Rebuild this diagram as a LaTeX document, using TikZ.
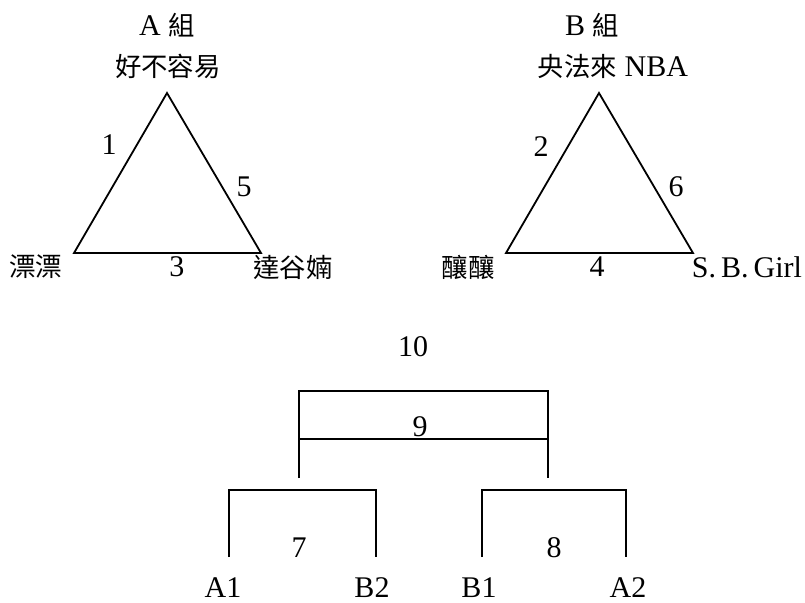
\documentclass[tikz,border=0pt]{standalone}
\usepackage{fontspec}
\usepackage{tikz}
\setmainfont{Liberation Serif}
\newfontfamily\cjk[Scale=0.88]{Noto Sans CJK TC}
\tikzstyle{pixelGrid} = [x = .5pt, y = -.5pt]
\tikzstyle{edgeLine} = [color=black, line width=.9pt, line join=miter]
\tikzstyle{nameText} = [font=\fontsize{15}{18}\selectfont, inner sep=0pt]
\newcommand{\zh}[1]{{\cjk #1}}
\newcommand{\groupTriangle}[2]{
  \coordinate (#1Top) at (#2 + 167, 93);
  \coordinate (#1Left) at (#2 + 74, 253);
  \coordinate (#1Right) at (#2 + 261, 253);
  \draw [edgeLine] (#1Top) -- (#1Left) -- (#1Right) -- cycle;
}
\newcommand{\bracketLine}[5]{
  \coordinate (#1LeftEnd) at (#2, #5);
  \coordinate (#1LeftCorner) at (#2, #4);
  \coordinate (#1RightCorner) at (#3, #4);
  \coordinate (#1RightEnd) at (#3, #5);
  \draw [edgeLine] (#1LeftEnd) -- (#1LeftCorner) -- (#1RightCorner) -- (#1RightEnd);
}

\begin{document}
\begin{tikzpicture}[pixelGrid]
\useasboundingbox (0,0) rectangle (805,602);
% group A
\groupTriangle{a}{0}
\node [nameText] (aTitle) at (167,25) {A~\zh{組}};
\node [nameText] (aTopName) at (168,66) {\zh{好不容易}};
\node [nameText] (aLeftName) at (36,267) {\zh{漂漂}};
\node [nameText] (aRightName) at (293,267) {\zh{達谷婻}};
\node [nameText] (gameOne) at (109,145) {1};
\node [nameText] (gameFive) at (244,187) {5};
\node [nameText] (gameThree) at (177,267) {3};
% group B
\groupTriangle{b}{432}
\node [nameText] (bTitle) at (592,25) {B~\zh{組}};
\node [nameText] (bTopName) at (613,66) {\zh{央法來} NBA};
\node [nameText] (bLeftName) at (468,267) {\zh{釀釀}};
\node [nameText] (bRightName) at (747,267) {S.\,B.\,Girl};
\node [nameText] (gameTwo) at (541,147) {2};
\node [nameText] (gameSix) at (676,187) {6};
\node [nameText] (gameFour) at (597,267) {4};
% knockout
\bracketLine{final}{299}{548}{391}{478}
\coordinate (semiLeft) at (299,439);
\coordinate (semiRight) at (548,439);
\draw [edgeLine] (semiLeft) -- (semiRight);
\bracketLine{left}{229}{376}{490}{557}
\bracketLine{right}{482}{626}{490}{557}
\node [nameText] (gameTen) at (413,347) {10};
\node [nameText] (gameNine) at (420,427) {9};
\node [nameText] (gameSeven) at (299,548) {7};
\node [nameText] (gameEight) at (554,548) {8};
\node [nameText] (seedAOne) at (223,588) {A1};
\node [nameText] (seedBTwo) at (372,588) {B2};
\node [nameText] (seedBOne) at (479,588) {B1};
\node [nameText] (seedATwo) at (628,588) {A2};
\end{tikzpicture}
\end{document}
